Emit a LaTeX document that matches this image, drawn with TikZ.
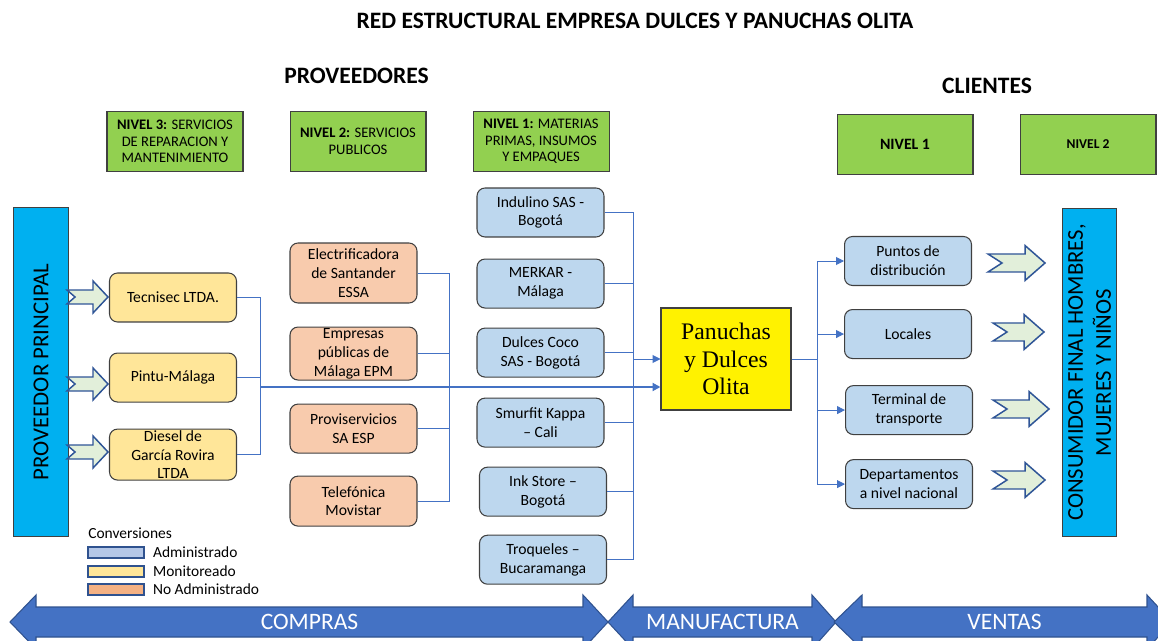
\documentclass[tikz,border=0pt]{standalone}
\usepackage{fontspec}
\setmainfont{Carlito}
\newfontfamily\serifolita{Liberation Serif}
\usetikzlibrary{positioning,calc,arrows.meta}
\definecolor{levelgreen}{HTML}{92D050}
\definecolor{endblue}{HTML}{00B0F0}
\definecolor{monfill}{HTML}{FFE699}
\definecolor{noadmfill}{HTML}{F8CBAD}
\definecolor{admfill}{HTML}{BDD7EE}
\definecolor{boxline}{HTML}{404040}
\definecolor{linkblue}{HTML}{4472C4}
\definecolor{chevfill}{HTML}{E2EFDA}
\definecolor{chevline}{HTML}{2F5597}
\definecolor{flowline}{HTML}{2F528F}
\definecolor{swblue}{HTML}{B4C7E7}
\definecolor{sworange}{HTML}{F4B183}

\begin{document}
\begin{tikzpicture}[x=0.02cm,y=-0.02cm,>={Triangle[length=4.5pt,width=4.5pt]},
box/.style={rectangle,rounded corners=0.16cm,draw=boxline,line width=0.6pt,align=center,inner sep=0pt,minimum width=2.54cm,minimum height=0.98cm,font=\fontsize{8.9}{10.7}\selectfont},
mon node/.style={box,fill=monfill},
noadm node/.style={box,fill=noadmfill},
adm node/.style={box,fill=admfill},
level node/.style={rectangle,draw=boxline,line width=0.6pt,fill=levelgreen,align=center,inner sep=0pt,minimum width=2.72cm,minimum height=1.2cm,font=\fontsize{8.3}{9.4}\selectfont},
end node/.style={rectangle,draw=boxline,line width=0.6pt,fill=endblue,align=center,inner sep=0pt,rotate=90,minimum width=6.6cm,minimum height=1.09cm},
plant node/.style={rectangle,draw=boxline,line width=0.6pt,fill=yellow,align=center,inner sep=0pt,minimum width=2.6cm,minimum height=2.04cm,font=\serifolita\fontsize{13.5}{15.6}\selectfont},
heading/.style={inner sep=0pt,font=\fontsize{13.4}{16}\selectfont\bfseries},
link/.style={draw=linkblue,line width=0.55pt},
main link/.style={draw=linkblue,line width=1.1pt},
chevron/.style={fill=chevfill,draw=chevline,line width=0.85pt,line join=miter},
flow/.style={fill=linkblue,draw=flowline,line width=0.6pt},
flow text/.style={text=white,inner sep=0pt,font=\fontsize{13.4}{16}\selectfont},
swatch/.style={rectangle,draw=flowline,line width=0.8pt,inner sep=0pt,minimum width=1.12cm,minimum height=0.22cm},
legend text/.style={inner sep=0pt,anchor=west,font=\fontsize{8.8}{10}\selectfont}]
\useasboundingbox (0,0) rectangle (1158,641);
% titles
  \node[heading] (ttl) at (635,21) {RED ESTRUCTURAL EMPRESA DULCES Y PANUCHAS OLITA};
  \node[heading] (prv) at (356.5,76) {PROVEEDORES};
  \node[heading] (cli) at (987,86) {CLIENTES};
% levels
  \node[level node] (n3) at (175,141.5) {\textbf{NIVEL 3:} SERVICIOS\\DE REPARACION Y\\MANTENIMIENTO};
  \node[level node] (n2) [right=0.92cm of n3] {\textbf{NIVEL 2:} SERVICIOS\\PUBLICOS};
  \node[level node] (n1) [right=0.92cm of n2] {\textbf{NIVEL 1:} MATERIAS\\PRIMAS, INSUMOS\\Y EMPAQUES};
  \node[level node] (c1) at (905,144.5) {\fontsize{9}{10}\selectfont\textbf{NIVEL 1}};
  \node[level node] (c2) [right=0.92cm of c1] {\fontsize{7.7}{9}\selectfont\textbf{NIVEL 2}};
% ends
  \node[end node,font=\fontsize{13}{15}\selectfont] (prin) at (41,372) {PROVEEDOR PRINCIPAL};
  \node[end node,minimum width=6.58cm,font=\fontsize{12.9}{15.9}\selectfont] (cons) at (1089.5,372.5) {CONSUMIDOR FINAL HOMBRES,\\MUJERES Y NIÑOS};
% nivel 3
  \node[mon node] (tec) at (173,297.5) {Tecnisec LTDA.};
  \node[mon node] (pin) [below=0.6cm of tec] {Pintu-Málaga};
  \node[mon node,minimum height=1.02cm] (die) [below=0.52cm of pin] {Diesel de\\García Rovira\\LTDA};
% nivel 2
  \node[noadm node,minimum height=1.2cm] (ele) at (353.5,273) {Electrificadora\\de Santander\\ESSA};
  \node[noadm node,minimum height=1.06cm] (emp) [below=0.46cm of ele] {Empresas\\públicas de\\Málaga EPM};
  \node[noadm node] (pro) [below=0.46cm of emp] {Proviservicios\\SA ESP};
  \node[noadm node,minimum height=1cm] (tel) [below=0.44cm of pro] {Telefónica\\Movistar};
% nivel 1
  \node[adm node] (ind) at (540.5,212.5) {Indulino SAS -\\Bogotá};
  \node[adm node] (mer) [below=0.42cm of ind] {MERKAR -\\Málaga};
  \node[adm node] (coc) [below=0.38cm of mer] {Dulces Coco\\SAS - Bogotá};
  \node[adm node] (smu) [below=0.4cm of coc] {Smurfit Kappa\\– Cali};
  \node[adm node] (ink) [below=0.38cm of smu,xshift=0.05cm] {Ink Store –\\Bogotá};
  \node[adm node] (tro) [below=0.36cm of ink] {Troqueles –\\Bucaramanga};
% empresa
  \node[plant node] (pan) at (726,359) {Panuchas\\y Dulces\\Olita};
% clientes
  \node[adm node] (pun) at (908,261) {Puntos de\\distribución};
  \node[adm node] (loc) [below=0.46cm of pun] {Locales};
  \node[adm node] (ter) [below=0.52cm of loc,xshift=0.02cm] {Terminal de\\transporte};
  \node[adm node] (dep) [below=0.48cm of ter] {Departamentos\\a nivel nacional};
% edges
  \coordinate (j3) at (260,387);
  \coordinate (j2) at (449,387);
  \coordinate (j1) at (633,359);
  \coordinate (jc) at (817,359);
  \draw[link] (tec.east) -| (j3);
  \draw[link] (die.east) -| (j3);
  \draw[link] (pin.east) -- (pin.east -| j3);
  \draw[link] (ele.east) -| (j2);
  \draw[link] (tel.east) -| (j2);
  \draw[link] (emp.east) -- (emp.east -| j2);
  \draw[link] (pro.east) -- (pro.east -| j2);
  \draw[link] (ind.east) -| (j1);
  \draw[link] (tro.east) -| (j1);
  \foreach \n in {mer,coc,smu,ink}
    \draw[link] (\n.east) -- (\n.east -| j1);
  \draw[link,->] (j1) -- (j1 -| pan.west);
  \draw[main link,->] (j3) -- (j3 -| pan.west);
  \draw[link] (pan.east) -- (jc);
  \foreach \n in {pun,loc,ter,dep}
    \draw[link,->] (jc) |- (\n.west);
% chevrons
  \foreach \y in {297,384,452}
    \draw[chevron] (67,\y-7) -- (93,\y-7) -- (93,\y-16) -- (108,\y) -- (93,\y+16) -- (93,\y+7) -- (67,\y+7) -- (75,\y) -- cycle;
  \foreach \y/\l/\t in {263/988/1045,332/993/1044,409/993/1049,480/993/1045}
    \draw[chevron] (\l,\y-9) -- (\t-20,\y-9) -- (\t-20,\y-17.5) -- (\t,\y) -- (\t-20,\y+17.5) -- (\t-20,\y+9) -- (\l,\y+9) -- (\l+14,\y) -- cycle;
% legend
  \node[legend text] (conv) at (88,533) {Conversiones};
  \node[swatch,fill=swblue] (sw1) at (116,552.5) {};
  \node[swatch,fill=monfill] (sw2) at (116,571.5) {};
  \node[swatch,fill=sworange] (sw3) at (116,589.5) {};
  \node[legend text] (lg1) [right=0.16cm of sw1] {Administrado};
  \node[legend text] (lg2) [right=0.16cm of sw2] {Monitoreado};
  \node[legend text] (lg3) [right=0.16cm of sw3] {No Administrado};
% etapas
  \foreach \a/\b/\c/\d/\lab in {10/36/583/608/COMPRAS,608/633/812/836/MANUFACTURA,834/862/1147/1172/VENTAS}{
    \draw[flow] (\a,622) -- (\b,595) -- (\b,607) -- (\c,607) -- (\c,595) -- (\d,622) -- (\c,649) -- (\c,637) -- (\b,637) -- (\b,649) -- cycle;
    \node[flow text] (f-\lab) at ({(\b+\c)/2},622) {\lab};
  }
\end{tikzpicture}
\end{document}
